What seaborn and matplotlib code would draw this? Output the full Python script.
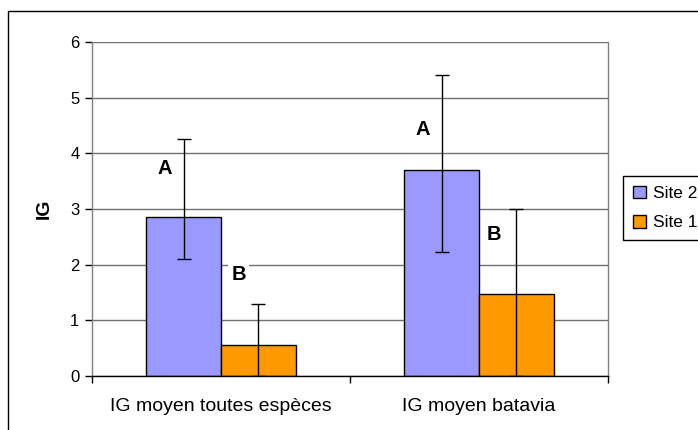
import matplotlib
matplotlib.use("Agg")
import matplotlib.pyplot as plt
import matplotlib.patches as mpatches
import seaborn as sns
import pandas as pd
import numpy as np

# ---- data ----
categories = ["IG moyen toutes espèces", "IG moyen batavia"]
sites = ["Site 2", "Site 1"]
site2_values = [2.85, 3.70]
site1_values = [0.55, 1.48]
site2_err_low = [2.10, 2.22]
site2_err_high = [4.25, 5.40]
site1_err_low = [0.0, 0.0]
site1_err_high = [1.30, 3.00]
letters_site2 = ["A", "A"]
letters_site1 = ["B", "B"]
y_ticks = [0, 1, 2, 3, 4, 5, 6]

colors = {"Site 2": "#9999FF", "Site 1": "#FF9900"}

sns.set_style("white")
plt.rcParams["font.family"] = ["Liberation Sans", "DejaVu Sans"]
plt.rcParams["text.color"] = "black"
plt.rcParams["axes.labelcolor"] = "black"
plt.rcParams["xtick.color"] = "black"
plt.rcParams["ytick.color"] = "black"
plt.rcParams["xtick.labelcolor"] = "black"
plt.rcParams["ytick.labelcolor"] = "black"

df = pd.DataFrame({
    "cat": categories * 2,
    "site": [sites[0]] * 2 + [sites[1]] * 2,
    "IG": site2_values + site1_values,
})

fig = plt.figure(figsize=(6.98, 4.30), dpi=100)
ax = fig.add_axes([92 / 698, 1 - 376 / 430, 516 / 698, 334 / 430])

sns.barplot(data=df, x="cat", y="IG", hue="site", hue_order=sites,
            palette=colors, width=0.578, edgecolor="black", linewidth=1,
            errorbar=None, legend=False, ax=ax, zorder=2, saturation=1)

# error bars
vals = [site2_values, site1_values]
lows = [site2_err_low, site1_err_low]
highs = [site2_err_high, site1_err_high]
for cont, v, lo, hi in zip(ax.containers, vals, lows, highs):
    xs = [b.get_x() + b.get_width() / 2 for b in cont]
    v = np.array(v); lo = np.array(lo); hi = np.array(hi)
    ax.errorbar(xs, v, yerr=[v - lo, hi - v], fmt="none", ecolor="black",
                elinewidth=1, capsize=5, capthick=1, zorder=3, clip_on=True)

# letters
for i in range(len(categories)):
    ax.text(i - 0.217, 3.73 if i == 0 else 4.43, letters_site2[i],
            ha="center", va="center", fontsize=14.5, fontweight="bold", zorder=4,
            color="black")
    ax.text(i + 0.068 if i == 0 else i + 0.058, 1.83 if i == 0 else 2.55,
            letters_site1[i], ha="center", va="center", fontsize=14.5,
            fontweight="bold", zorder=4, color="black",
            bbox=dict(facecolor="white", edgecolor="none", pad=2))

ax.set_ylim(0, 6)
ax.set_xlim(-0.5, 1.5)
ax.set_yticks(y_ticks)
ax.set_yticklabels([str(t) for t in y_ticks], fontsize=12, color="black")
ax.yaxis.grid(True, color="#707070", linewidth=1, zorder=0)
ax.set_axisbelow(True)
ax.set_xlabel("")
ax.set_ylabel("IG", fontsize=14, fontweight="bold", labelpad=12.5, color="black")

ax.set_xticks([-0.5, 0.5, 1.5], minor=False)
ax.set_xticklabels(["", "", ""])
ax.set_xticks([0, 1], minor=True)
ax.set_xticklabels(categories, minor=True, fontsize=14, color="black")
ax.tick_params(axis="x", which="major", length=5, width=1, color="black", direction="out", bottom=True)
ax.tick_params(axis="x", which="minor", length=0, pad=15.5)
ax.tick_params(axis="y", length=5, width=1, color="black", direction="out", left=True, pad=4)

for s in ["left", "right", "top"]:
    ax.spines[s].set_color("#808080")
    ax.spines[s].set_linewidth(1)
ax.spines["top"].set_visible(False)
ax.spines["bottom"].set_color("black")
ax.spines["bottom"].set_linewidth(1)

# legend
handles = [mpatches.Patch(facecolor=colors[s], edgecolor="black", linewidth=1, label=s) for s in sites]
leg = fig.legend(handles=handles, loc="upper left", bbox_to_anchor=(623 / 698, 1 - 176 / 430),
                 fontsize=12.5, frameon=True, fancybox=False, framealpha=1, edgecolor="black",
                 handlelength=0.75, handleheight=0.75, handletextpad=0.45, borderpad=0.55,
                 labelspacing=0.8, borderaxespad=0)
leg.get_frame().set_linewidth(1)
for t in leg.get_texts():
    t.set_color("black")

# outer border
fig.patches.append(mpatches.Rectangle((8 / 698, -0.1), 1.2, 0.1 + 1 - 11 / 430,
                                      transform=fig.transFigure, fill=False,
                                      edgecolor="black", linewidth=1))

fig.savefig("out.png", dpi=100)
